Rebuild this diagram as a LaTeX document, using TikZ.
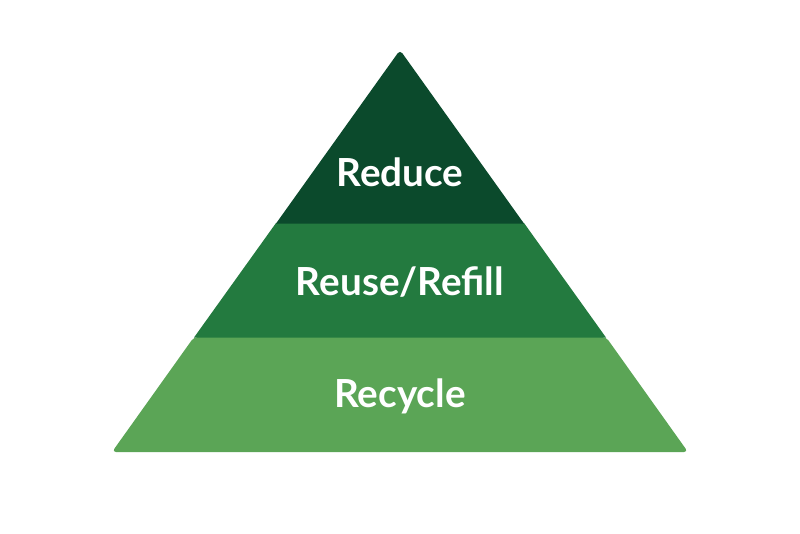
\documentclass[tikz,border=0pt]{standalone}
\usepackage{fontspec}
\setmainfont{Lato}
\definecolor{tierTop}{RGB}{11,74,44}
\definecolor{tierMid}{RGB}{35,122,63}
\definecolor{tierLow}{RGB}{91,165,86}
\tikzset{tierlabel/.style={text=white,font=\fontsize{29}{34}\selectfont\bfseries,inner sep=0.75pt}}
\begin{document}
\begin{tikzpicture}[x=0.75pt,y=0.75pt,yscale=-1]
        \useasboundingbox (0,0) rectangle (800,533);

        %Shape: bottom band
        \fill [tierLow,rounded corners=3] (194,337) -- (606,337) -- (688,452) -- (112,452) -- cycle ;
        %Shape: middle band
        \fill [tierMid] (276,223) -- (524,223) -- (606,337.5) -- (194,337.5) -- cycle ;
        %Shape: top band
        \fill [tierTop] (276,223.5) [rounded corners=3] -- (400,50) [sharp corners] -- (524,223.5) -- cycle ;

        % Text Node
        \node [tierlabel] (reduce) at (400,172) {Reduce};
        % Text Node
        \node [tierlabel] (reuse) at (400,282) {Reuse/Refill};
        % Text Node
        \node [tierlabel] (recycle) at (400,396) {Recycle};

\end{tikzpicture}
\end{document}
